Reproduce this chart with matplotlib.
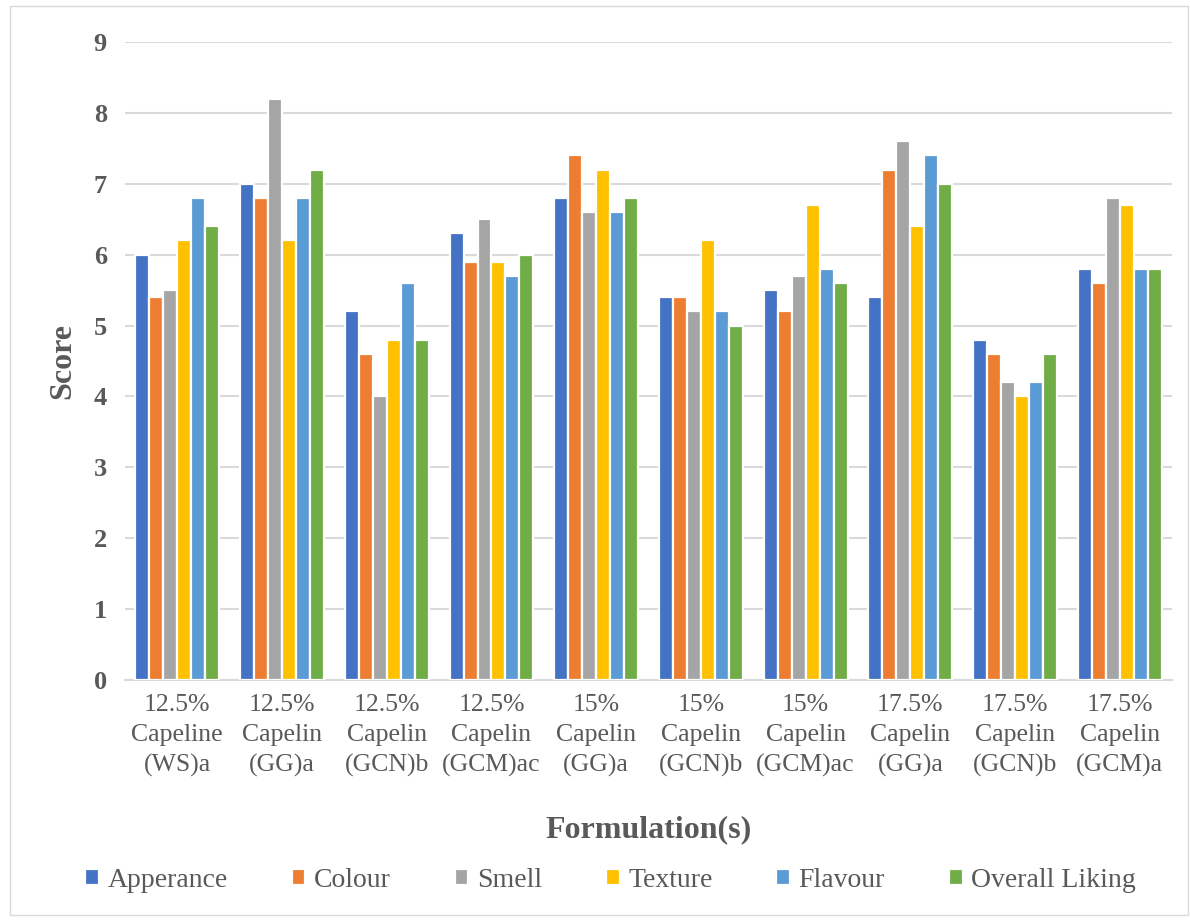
import numpy as np
import matplotlib.pyplot as plt
from matplotlib.patches import Rectangle

# sensory scores per formulation
formulations = ["12.5%\nCapeline\n(WS)a", "12.5%\nCapelin\n(GG)a", "12.5%\nCapelin\n(GCN)b",
                "12.5%\nCapelin\n(GCM)ac", "15%\nCapelin\n(GG)a", "15%\nCapelin\n(GCN)b",
                "15%\nCapelin\n(GCM)ac", "17.5%\nCapelin\n(GG)a", "17.5%\nCapelin\n(GCN)b",
                "17.5%\nCapelin\n(GCM)a"]
attributes = ["Apperance", "Colour", "Smell", "Texture", "Flavour", "Overall Liking"]
apperance = [6.0, 7.0, 5.2, 6.3, 6.8, 5.4, 5.5, 5.4, 4.8, 5.8]
colour = [5.4, 6.8, 4.6, 5.9, 7.4, 5.4, 5.2, 7.2, 4.6, 5.6]
smell = [5.5, 8.2, 4.0, 6.5, 6.6, 5.2, 5.7, 7.6, 4.2, 6.8]
texture = [6.2, 6.2, 4.8, 5.9, 7.2, 6.2, 6.7, 6.4, 4.0, 6.7]
flavour = [6.8, 6.8, 5.6, 5.7, 6.6, 5.2, 5.8, 7.4, 4.2, 5.8]
overall = [6.4, 7.2, 4.8, 6.0, 6.8, 5.0, 5.6, 7.0, 4.6, 5.8]
series = [apperance, colour, smell, texture, flavour, overall]
colors = ["#4472c4", "#ed7d31", "#a5a5a5", "#ffc000", "#5b9bd5", "#70ad47"]

plt.rcParams['font.family'] = ['Liberation Serif', 'DejaVu Serif']
txt = "#595959"

fig = plt.figure(figsize=(11.9, 9.22), dpi=100)
ax = fig.add_axes([0.105, 0.2625, 0.88, 0.692])

x = np.arange(len(formulations))
slot = 0.8 / len(series)
for i, (vals, c) in enumerate(zip(series, colors)):
    ax.bar(x - 0.4 + slot * (i + 0.5), vals, width=slot, color=c,
           edgecolor="white", linewidth=1.6, label=attributes[i], zorder=3)

ax.set_xlim(-0.5, len(formulations) - 0.5)
ax.set_ylim(0, 9)
ax.set_yticks(range(10))
ax.yaxis.grid(True, color="#d9d9d9", linewidth=1.5, zorder=0)
ax.set_axisbelow(True)
for s in ["top", "right", "left"]:
    ax.spines[s].set_visible(False)
ax.spines["bottom"].set_color("#d9d9d9")
ax.spines["bottom"].set_linewidth(1.5)
ax.tick_params(length=0)
ax.tick_params(axis="y", pad=13, labelsize=19, labelcolor=txt)
for t in ax.get_yticklabels():
    t.set_fontweight("bold")
ax.set_xticks(x)
ax.set_xticklabels(formulations, fontsize=18.5, color=txt, linespacing=1.45)
ax.tick_params(axis="x", pad=10)

ax.set_ylabel("Score", fontsize=23, fontweight="bold", color=txt, labelpad=12)
ax.set_xlabel("Formulation(s)", fontsize=23, fontweight="bold", color=txt, labelpad=28)

fig.legend(loc="center", bbox_to_anchor=(0.513, 0.045), ncol=6, frameon=False,
           fontsize=20, handlelength=0.5, handleheight=0.5, handletextpad=0.3,
           columnspacing=2.3, labelcolor=txt)

# chart frame
fig.patches.append(Rectangle((0.008, 0.008), 0.99, 0.985, transform=fig.transFigure,
                             fill=False, edgecolor="#d9d9d9", linewidth=1))

fig.savefig("out.png", dpi=100)
